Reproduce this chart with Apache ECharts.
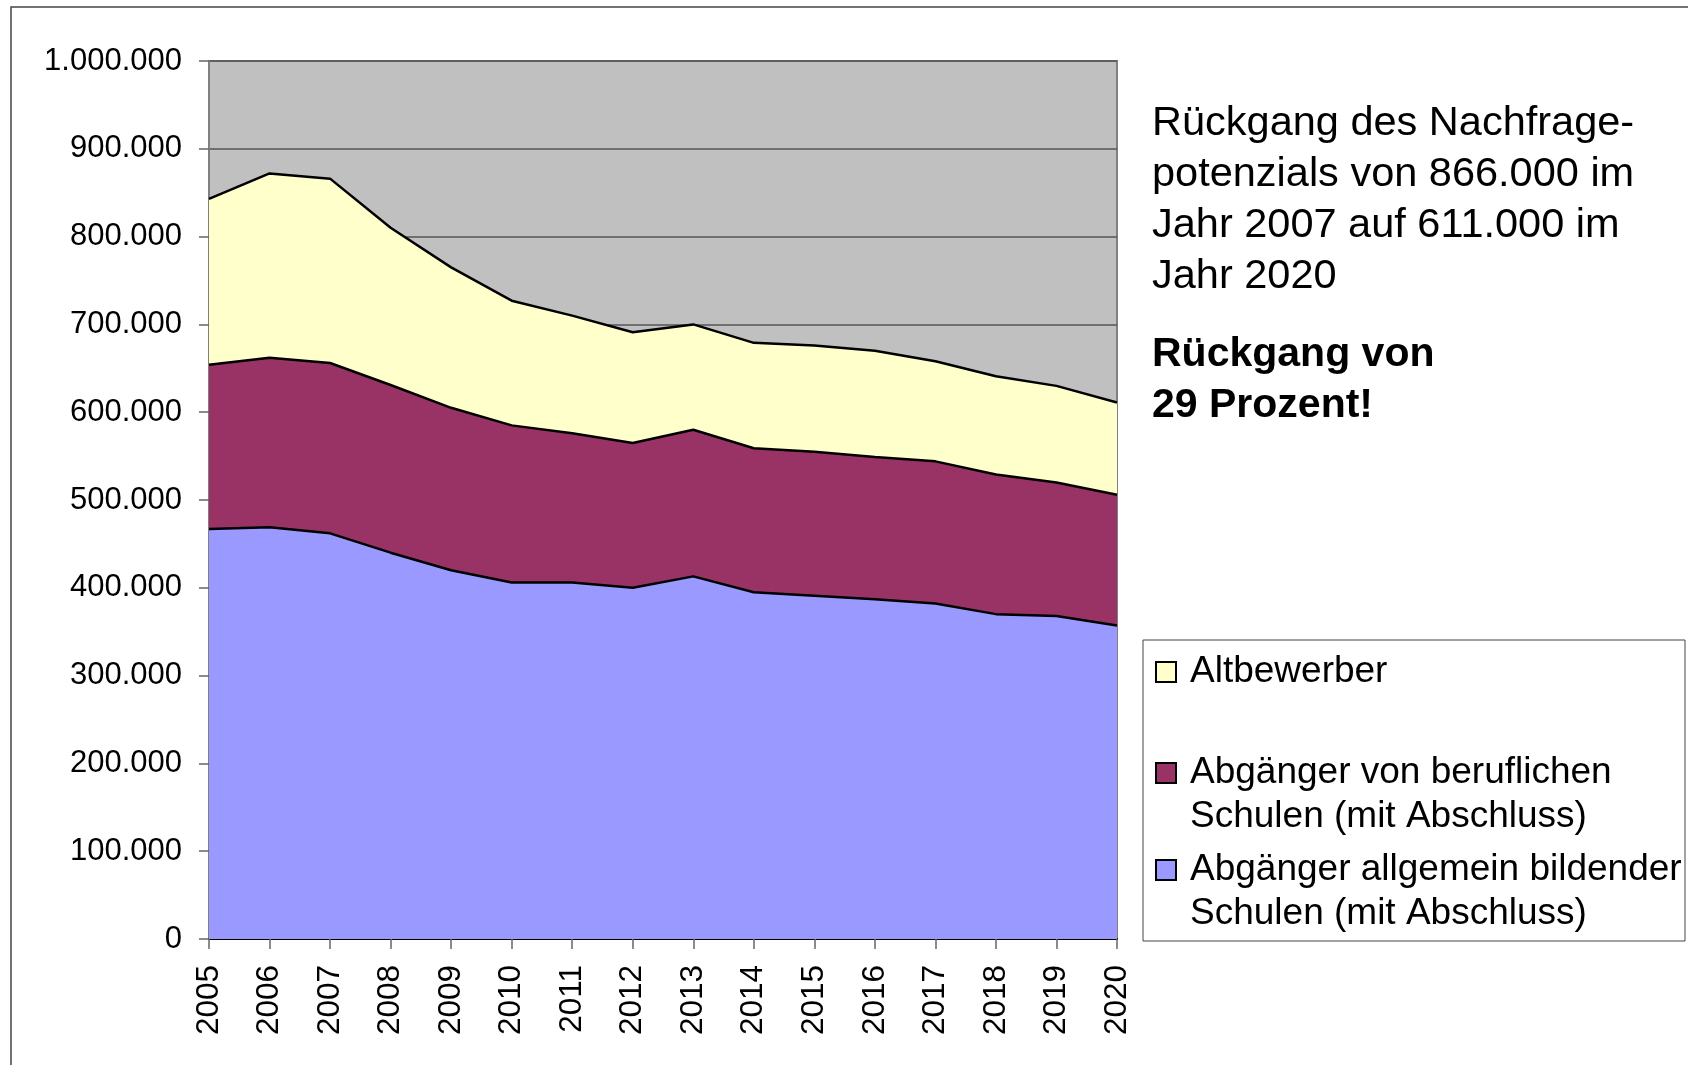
<!DOCTYPE html>
<html>
<head>
<meta charset="utf-8">
<script src="https://cdn.jsdelivr.net/npm/echarts@6/dist/echarts.min.js"></script>
<style>
    html, body { margin: 0; padding: 0; background: #fff; }
    #main { width: 1688px; height: 1065px; }
</style>
</head>
<body>
<div id="main"></div>
<script>
// years on the x axis
let years = ["2005", "2006", "2007", "2008", "2009", "2010", "2011", "2012",
    "2013", "2014", "2015", "2016", "2017", "2018", "2019", "2020"];

// values (persons)
let allgemein = [467000, 469000, 462000, 440000, 420000, 406000, 406000, 400000,
    413000, 395000, 391000, 387000, 382000, 370000, 368000, 357000];
let beruflich = [187000, 193000, 194000, 191000, 185000, 179000, 170000, 165000,
    167000, 164000, 164000, 162000, 162000, 159000, 152000, 149000];
let altbewerber = [189000, 210000, 210000, 179000, 160000, 142000, 134000, 126000,
    120000, 120000, 121000, 121000, 114000, 112000, 110000, 105000];

let names = [
    "Abgänger allgemein bildender\nSchulen (mit Abschluss)",
    "Abgänger von beruflichen\nSchulen (mit Abschluss)",
    "Altbewerber"
];
let colors = ["#9999FF", "#993366", "#FFFFCC"];

let noteLines = [
    "Rückgang des Nachfrage-",
    "potenzials von 866.000 im",
    "Jahr 2007 auf 611.000 im",
    "Jahr 2020"
];
let boldLines = ["Rückgang von", "29 Prozent!"];

let font = "Liberation Sans, Arial, sans-serif";

function dots(v) {
    return String(v).replace(/\B(?=(\d{3})+(?!\d))/g, ".");
}

function areaSeries(name, values, color) {
    return {
        name: name,
        type: "line",
        stack: "total",
        data: values,
        symbol: "none",
        lineStyle: { color: "#000", width: 2.5 },
        areaStyle: { color: color, opacity: 1 },
        itemStyle: { color: color }
    };
}

// legend drawn by hand: Excel puts the swatch next to the first line
function legendItems() {
    let items = [
        { idx: 2, y: 672 },
        { idx: 1, y: 773 },
        { idx: 0, y: 870 }
    ];
    let out = [{
        type: "rect",
        shape: { x: 1143, y: 640, width: 542, height: 301 },
        style: { fill: "#fff", stroke: "#444", lineWidth: 1 }
    }];
    items.forEach((it) => {
        let multi = names[it.idx].indexOf("\n") >= 0;
        out.push({
            type: "rect",
            shape: { x: 1156, y: it.y - 10, width: 20, height: 20 },
            style: { fill: colors[it.idx], stroke: "#000", lineWidth: 2 }
        });
        out.push({
            type: "text",
            x: 1190,
            // first line centre sits on the swatch
            y: multi ? it.y + 22 : it.y,
            style: {
                text: names[it.idx],
                font: "37px " + font,
                fill: "#000",
                verticalAlign: "middle",
                lineHeight: 44
            }
        });
    });
    return out;
}

function notes() {
    let out = [];
    noteLines.forEach((t, i) => {
        out.push({
            type: "text",
            x: 1152,
            y: 124 + i * 51,
            style: { text: t, font: "41.5px " + font, fill: "#000", verticalAlign: "middle" }
        });
    });
    boldLines.forEach((t, i) => {
        out.push({
            type: "text",
            x: 1152,
            y: 355 + i * 51,
            style: { text: t, font: "bold 41px " + font, fill: "#000", verticalAlign: "middle" }
        });
    });
    return out;
}

let myChart = echarts.init(document.getElementById("main"));

let option = {
    animation: false,
    backgroundColor: "#fff",
    textStyle: { fontFamily: font },
    grid: {
        left: 209,
        top: 61,
        right: 571,
        bottom: 126,
        show: true,
        backgroundColor: "#C0C0C0",
        borderColor: "#808080",
        borderWidth: 2
    },
    xAxis: {
        type: "category",
        data: years,
        boundaryGap: false,
        axisLine: { lineStyle: { color: "#000", width: 2 } },
        axisTick: { length: 10, lineStyle: { color: "#666", width: 1.5 } },
        axisLabel: { rotate: 90, margin: 26, fontSize: 31.5, color: "#000", fontFamily: font }
    },
    yAxis: {
        type: "value",
        min: 0,
        max: 1000000,
        interval: 100000,
        axisLine: { show: true, lineStyle: { color: "#808080", width: 2 } },
        axisTick: { show: true, length: 10, lineStyle: { color: "#666", width: 1.5 } },
        axisLabel: { margin: 27, fontSize: 31, color: "#000", fontFamily: font, formatter: dots },
        splitLine: { lineStyle: { color: "#555", width: 1.5 } }
    },
    series: [
        areaSeries(names[0], allgemein, colors[0]),
        areaSeries(names[1], beruflich, colors[1]),
        areaSeries(names[2], altbewerber, colors[2])
    ],
    graphic: [].concat(
        {
            type: "polyline",
            shape: { points: [[11, 1065], [11, 7], [1688, 7]] },
            style: { fill: null, stroke: "#444", lineWidth: 1.5 }
        },
        notes(),
        legendItems()
    )
};

myChart.setOption(option);
</script>
</body>
</html>
